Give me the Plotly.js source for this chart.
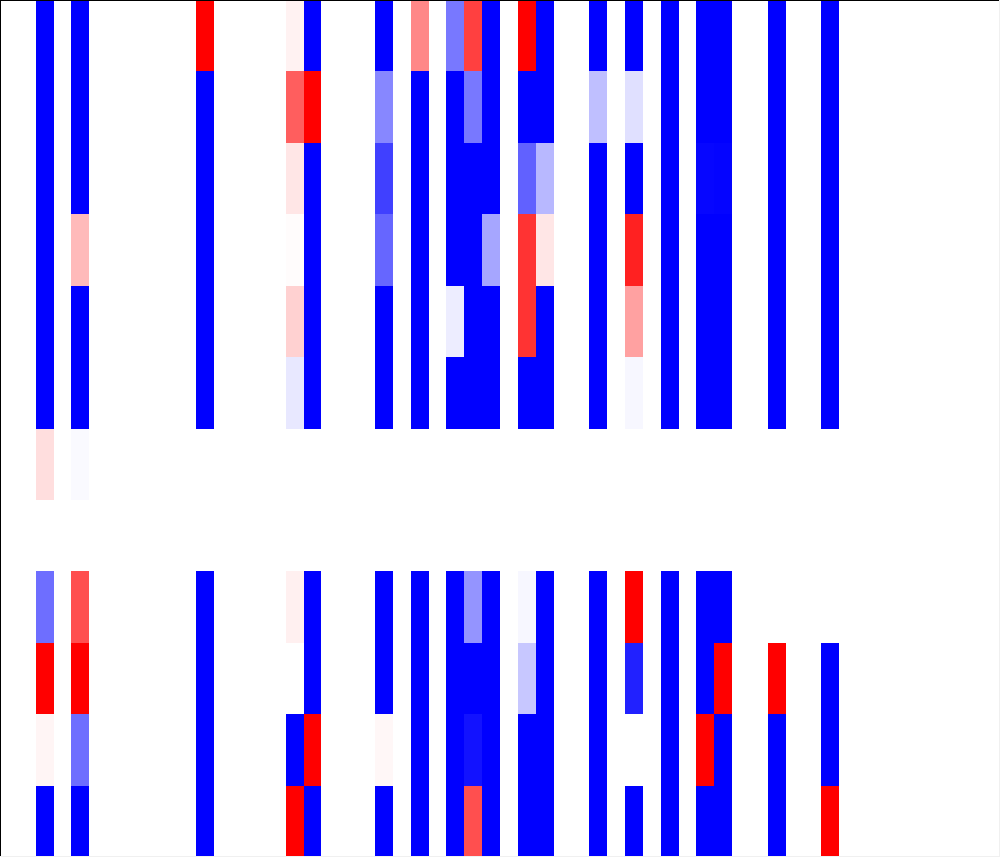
<!DOCTYPE html>
<html>
<head>
<meta charset="utf-8">
<script src="https://cdn.plot.ly/plotly-3.0.1.min.js"></script>
<style>html,body{margin:0;padding:0;background:#fff;}#chart{width:1000px;height:857px;}</style>
</head>
<body>
<div id="chart"></div>
<script>
var nCols = 56;
var nRows = 12;
var activeCols = [2,4,11,16,17,21,23,25,26,27,29,30,33,35,37,39,40,43,46];
var n = null;
var row0  = [-1,-1,1,0.05,-1,-1,0.47,-0.53,0.75,-1,1,-1,-1,-1,-1,-1,-1,-1,-1];
var row1  = [-1,-1,-1,0.63,1,-0.47,-1,-1,-0.53,-1,-1,-1,-0.25,-0.12,-1,-1,-1,-1,-1];
var row2  = [-1,-1,-1,0.1,-1,-0.75,-1,-1,-1,-1,-0.62,-0.28,-1,-1,-1,-0.975,-0.985,-1,-1];
var row3  = [-1,0.27,-1,0.01,-1,-0.6,-1,-1,-1,-0.35,0.8,0.1,-1,0.87,-1,-1,-1,-1,-1];
var row4  = [-1,-1,-1,0.18,-1,-1,-1,-0.07,-1,-1,0.8,-1,-1,0.37,-1,-1,-1,-1,-1];
var row5  = [-1,-1,-1,-0.09,-1,-1,-1,-1,-1,-1,-1,-1,-1,-0.03,-1,-1,-1,-1,-1];
var row6  = [0.13,-0.02,n,n,n,n,n,n,n,n,n,n,n,n,n,n,n,n,n];
var row7  = [n,n,n,n,n,n,n,n,n,n,n,n,n,n,n,n,n,n,n];
var row8  = [-0.57,0.69,-1,0.06,-1,-1,-1,-1,-0.42,-1,-0.03,-1,-1,1,-1,-1,-1,n,n];
var row9  = [1,1,-1,n,-1,-1,-1,-1,-1,-1,-0.22,-1,-1,-0.87,-1,-1,1,1,-1];
var row10 = [0.04,-0.57,-1,-1,1,0.03,-1,-1,-0.93,-1,-1,-1,-1,n,-1,1,-1,-1,-1];
var row11 = [-1,-1,-1,1,-1,-1,-1,-1,0.69,-1,-1,-1,-1,-1,-1,-1,-1,-1,1];
var rows = [row0,row1,row2,row3,row4,row5,row6,row7,row8,row9,row10,row11];

var z = rows.map(function(r){
  var full = new Array(nCols).fill(null);
  activeCols.forEach(function(c,i){ full[c] = r[i]; });
  return full;
});
var xs = []; for (var i=0;i<nCols;i++) xs.push(i);
var ys = []; for (var j=0;j<nRows;j++) ys.push(j);

var trace = {
  type: 'heatmap', z: z, x: xs, y: ys,
  zmin: -1, zmax: 1,
  colorscale: [[0,'rgb(0,0,255)'],[0.5,'rgb(255,255,255)'],[1,'rgb(255,0,0)']],
  showscale: false, hoverongaps: false
};
var layout = {
  width: 1000, height: 857,
  margin: {l:0, r:0, t:0, b:0},
  paper_bgcolor: '#ffffff', plot_bgcolor: '#ffffff',
  xaxis: {range: [-0.5, nCols-0.5], visible: false, fixedrange: true},
  yaxis: {range: [nRows-0.5, -0.5], visible: false, fixedrange: true},
  shapes: [
    {type:'line', xref:'paper', yref:'paper', x0:0, x1:1, y0:1, y1:1, line:{color:'#000', width:2}},
    {type:'line', xref:'paper', yref:'paper', x0:0, x1:0, y0:0, y1:1, line:{color:'#000', width:2}},
    {type:'line', xref:'paper', yref:'paper', x0:1, x1:1, y0:0, y1:1, line:{color:'#f0f0f0', width:2}},
    {type:'line', xref:'paper', yref:'paper', x0:0, x1:1, y0:0, y1:0, line:{color:'#f0f0f0', width:2}}
  ]
};
Plotly.newPlot('chart', [trace], layout, {displayModeBar:false, staticPlot:true});
</script>
</body>
</html>
